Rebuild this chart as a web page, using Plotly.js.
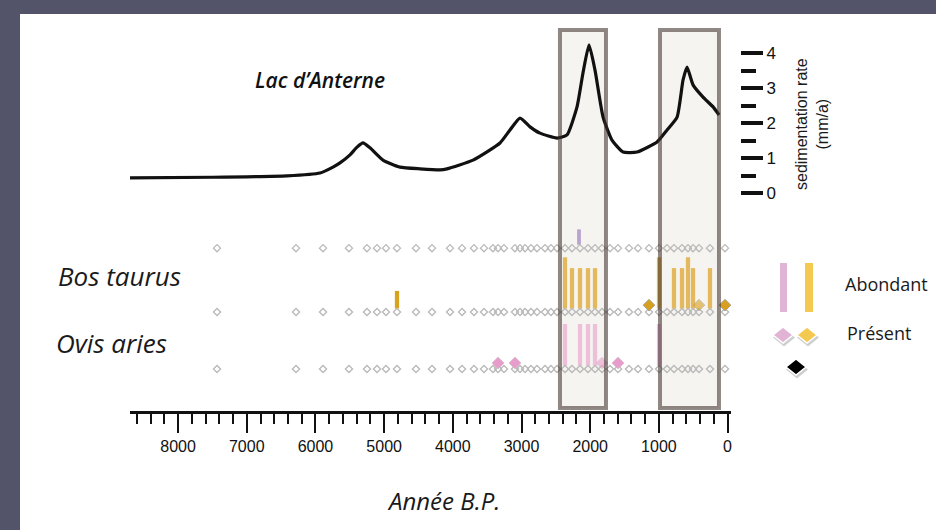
<!DOCTYPE html>
<html>
<head>
<meta charset="utf-8">
<script src="https://cdn.plot.ly/plotly-3.0.1.min.js"></script>
<style>html,body{margin:0;padding:0;background:#53546a;}#chart{width:936px;height:530px;}</style>
</head>
<body>
<div id="chart"></div>
<script>
// ---------- DATA ----------
// Sedimentation rate curve, Lac d'Anterne (years BP, mm/a)
const curveYears = [8700, 7500, 6414, 5934, 5745, 5643, 5497, 5395, 5308, 5206, 5017, 4769, 4478, 4187, 4085, 3706, 3313, 3168, 3022, 2876, 2731, 2483, 2338, 2192, 2105, 2017, 1930, 1813, 1683, 1522, 1318, 1027, 881, 735, 648, 590, 503, 357, 211, 124];
const curveRate  = [0.43, 0.45, 0.49, 0.57, 0.74, 0.86, 1.09, 1.31, 1.43, 1.29, 0.94, 0.74, 0.69, 0.66, 0.69, 0.94, 1.43, 1.80, 2.14, 1.89, 1.71, 1.57, 1.66, 2.46, 3.43, 4.23, 3.51, 2.17, 1.51, 1.17, 1.17, 1.46, 1.80, 2.17, 3.23, 3.60, 3.09, 2.74, 2.46, 2.23];

// Sample levels (years BP)
const sampleYears = [7433, 6283, 5890, 5512, 5250, 5104, 4973, 4813, 4536, 4303, 4041, 3866, 3692, 3546, 3415, 3342, 3255, 3095, 3022, 2949, 2862, 2775, 2658, 2571, 2483, 2367, 2265, 2148, 2032, 1930, 1828, 1712, 1595, 1435, 1304, 1144, 998, 882, 780, 663, 576, 503, 416, 256, 37];

// Rows (top unlabeled, Bos taurus, Ovis aries)
const rowNames = ["(autre)", "Bos taurus", "Ovis aries"];

// Abundant occurrences (bars): years and relative level
const topAbundYears = [2163];
const topAbundLevel = [0.33];
const bosAbundYears = [4813, 2367, 2265, 2148, 2032, 1930, 998, 780, 663, 576, 503, 256];
const bosAbundLevel = [0.37, 0.96, 0.77, 0.77, 0.77, 0.77, 0.96, 0.77, 0.77, 0.96, 0.77, 0.77];
const ovisAbundYears = [2367, 2148, 2032, 1930, 998];
const ovisAbundLevel = [0.79, 0.79, 0.79, 0.79, 0.79];

// Present occurrences (diamonds)
const bosPresentYears = [1144, 416, 37];
const ovisPresentYears = [3342, 3095, 1828, 1595];

// Highlighted periods (years BP)
const periodStart = [2440, 984];
const periodEnd   = [1770, 125];

const xTickVals = [0, 1000, 2000, 3000, 4000, 5000, 6000, 7000, 8000];
const rateTickVals = [0, 1, 2, 3, 4];

// ---------- LAYOUT HELPERS (pixel -> paper) ----------
const W = 936, H = 530;
const px = x => x / W;
const py = y => 1 - y / H;

const rowPos = [2.12, 1, 0];      // vertical position of rows
const barOffset = 0.06;
const presentOffset = [0.12, 0.12, 0.105];

const dotColor = '#b9b9b9';

const traces = [];

// Curve
traces.push({
  x: curveYears, y: curveRate, xaxis: 'x', yaxis: 'y2', type: 'scatter', mode: 'lines',
  line: {color: '#111', width: 3.2, shape: 'spline', smoothing: 0.5},
  hoverinfo: 'skip', showlegend: false
});

// Bars
function barTrace(years, level, row, colors, width) {
  return {
    type: 'bar', x: years, y: level.map(v => v - barOffset),
    base: years.map(() => rowPos[row] + barOffset),
    xaxis: 'x', yaxis: 'y', width: width,
    marker: {color: colors, line: {width: 0}},
    hoverinfo: 'skip', showlegend: false
  };
}
traces.push(barTrace(topAbundYears, topAbundLevel, 0, '#b9a3cf', 55));
traces.push(barTrace(bosAbundYears, bosAbundLevel, 1,
  bosAbundYears.map((y, i) => i === 0 ? '#d9a21e' : '#e4b85c'), 62));
traces.push(barTrace(ovisAbundYears, ovisAbundLevel, 2, '#eebfd9', 62));

// Sample dots for each row
rowPos.forEach(r => {
  traces.push({
    type: 'scatter', mode: 'markers', x: sampleYears, y: sampleYears.map(() => r),
    xaxis: 'x', yaxis: 'y',
    marker: {symbol: 'diamond-open', size: 5.5, color: dotColor, line: {width: 1.3, color: dotColor}},
    hoverinfo: 'skip', showlegend: false
  });
});

// Present diamonds
traces.push({
  type: 'scatter', mode: 'markers', x: bosPresentYears, y: bosPresentYears.map(() => rowPos[1] + presentOffset[1]),
  xaxis: 'x', yaxis: 'y',
  marker: {symbol: 'diamond', size: 9, color: '#d8a01c', opacity: [1, 0.6, 1], line: {width: 1, color: '#a9a39a'}},
  hoverinfo: 'skip', showlegend: false
});
traces.push({
  type: 'scatter', mode: 'markers', x: ovisPresentYears, y: ovisPresentYears.map(() => rowPos[2] + presentOffset[2]),
  xaxis: 'x', yaxis: 'y',
  marker: {symbol: 'diamond', size: 9, color: '#e89ccb', opacity: [1, 1, 0.6, 1], line: {width: 1, color: '#d9b8cb'}},
  hoverinfo: 'skip', showlegend: false
});

// ---------- SHAPES ----------
const shapes = [];
// white page inside dark frame
shapes.push({type: 'rect', xref: 'paper', yref: 'paper', x0: px(20), x1: 1, y0: 0, y1: py(14),
  fillcolor: '#ffffff', line: {width: 0}, layer: 'below'});
// period boxes: fill below, border above (semi-transparent so marks under it darken)
periodStart.forEach((s, i) => {
  shapes.push({type: 'rect', xref: 'x', yref: 'paper', x0: s, x1: periodEnd[i], y0: py(408), y1: py(30),
    fillcolor: '#f5f4f0', line: {width: 0}, layer: 'below'});
  shapes.push({type: 'rect', xref: 'x', yref: 'paper', x0: s, x1: periodEnd[i], y0: py(408), y1: py(30),
    fillcolor: 'rgba(0,0,0,0)', line: {width: 4, color: 'rgba(60,45,40,0.57)'}, layer: 'above'});
});

// legend glyphs
function rectPx(x0, y0, x1, y1, color) {
  return {type: 'rect', xref: 'paper', yref: 'paper', x0: px(x0), x1: px(x1), y0: py(y1), y1: py(y0),
    fillcolor: color, line: {width: 0}, layer: 'above'};
}
function diamondPx(cx, cy, hw, hh, color, lineColor) {
  const p = `M${px(cx - hw)},${py(cy)} L${px(cx)},${py(cy - hh)} L${px(cx + hw)},${py(cy)} L${px(cx)},${py(cy + hh)} Z`;
  return {type: 'path', xref: 'paper', yref: 'paper', path: p, fillcolor: color,
    line: {width: lineColor ? 1.5 : 0, color: lineColor || 'rgba(0,0,0,0)'}, layer: 'above'};
}
shapes.push(rectPx(780, 263, 787, 312, '#e1b4d6'));
shapes.push(rectPx(805, 263, 813, 312, '#f3c94f'));
[[783, 335, '#e1b4d6'], [807, 335, '#f3c94f'], [796, 367, '#000000']].forEach(d => {
  shapes.push(diamondPx(d[0] + 1, d[1] + 2.5, 11, 9, '#cfcfcf'));
  shapes.push(diamondPx(d[0], d[1], 10, 8, d[2], '#ffffff'));
});

// ---------- ANNOTATIONS ----------
const italicFont = {family: 'Open Sans, Noto Sans, sans-serif', size: 26, color: '#1a1a1a', style: 'italic'};
function ann(text, x, y, font, xanchor, extra) {
  return Object.assign({text: text, xref: 'paper', yref: 'paper', x: px(x), y: py(y),
    xanchor: xanchor || 'center', yanchor: 'middle', showarrow: false, font: font}, extra || {});
}
const annotations = [
  ann('Lac d’Anterne', 320, 80, {family: 'Open Sans, Noto Sans, sans-serif', size: 21, color: '#111', style: 'italic', weight: 600}),
  ann('Bos taurus', 119, 276, italicFont),
  ann('Ovis aries', 111, 343, italicFont),
  ann('Année B.P.', 443, 500, Object.assign({}, italicFont, {size: 24})),
  ann('Abondant', 843, 284, {family: 'Open Sans, Noto Sans, sans-serif', size: 18, color: '#1a1a1a'}, 'left'),
  ann('Présent', 845, 333, {family: 'Open Sans, Noto Sans, sans-serif', size: 18, color: '#1a1a1a'}, 'left'),
  ann('sedimentation rate<br>(mm/a)', 812, 124, {family: 'Liberation Sans, Arial, sans-serif', size: 16, color: '#1a1a1a'}, 'center', {textangle: -90})
];

// ---------- LAYOUT ----------
const layout = {
  width: W, height: H,
  margin: {l: 0, r: 0, t: 0, b: 0, pad: 0},
  paper_bgcolor: '#53546a', plot_bgcolor: 'rgba(0,0,0,0)',
  showlegend: false, barmode: 'overlay',
  xaxis: {
    domain: [px(130), px(731)], range: [8700, -50], anchor: 'y',
    showgrid: false, zeroline: false, showline: true, linecolor: '#111', linewidth: 2.5,
    tickmode: 'array', tickvals: xTickVals, ticks: 'outside', ticklen: 19, tickwidth: 2, tickcolor: '#111',
    minor: {dtick: 200, tick0: 0, ticks: 'outside', ticklen: 10, tickwidth: 2, tickcolor: '#111', showgrid: false},
    tickfont: {family: 'Liberation Sans, Arial, sans-serif', size: 16, color: '#111'}
  },
  yaxis: {
    domain: [py(411), py(200)], range: [-(411 - 369) / 57, (369 - 200) / 57],
    showgrid: false, zeroline: false, showline: false, showticklabels: false, ticks: ''
  },
  yaxis2: {
    domain: [py(193), py(28)], range: [0, (193 - 28) / 35],
    anchor: 'free', position: px(740), side: 'right',
    showgrid: false, zeroline: false, showline: false,
    tickmode: 'array', tickvals: rateTickVals, ticks: 'outside', ticklen: 22, tickwidth: 4, tickcolor: '#111',
    minor: {tickvals: [0.5, 1.5, 2.5, 3.5], ticks: 'outside', ticklen: 15, tickwidth: 4, tickcolor: '#111', showgrid: false},
    tickfont: {family: 'Liberation Sans Narrow, Liberation Sans, Arial, sans-serif', size: 17, color: '#111'}
  },
  shapes: shapes,
  annotations: annotations
};

Plotly.newPlot('chart', traces, layout, {staticPlot: true, displayModeBar: false});
</script>
</body>
</html>
